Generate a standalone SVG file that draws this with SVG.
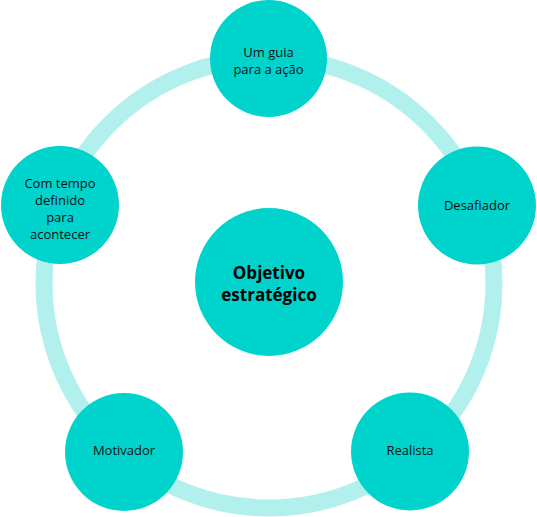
<svg xmlns="http://www.w3.org/2000/svg" width="537" height="517" viewBox="0 0 537 517">
<style>
.node{fill:#00d3cb}
.lbl{font-family:"Open Sans","Noto Sans",sans-serif;font-size:13px;fill:#111;text-anchor:middle}
.ctr{font-family:"Open Sans","Noto Sans",sans-serif;font-size:17px;font-weight:bold;fill:#000;text-anchor:middle}
</style>
<rect width="537" height="517" fill="#fff"/>
<g id="connectors">
<circle cx="269" cy="283" r="225" fill="none" stroke="#b2f0ee" stroke-width="17"/>
</g>
<g id="center">
<circle class="node" cx="269" cy="282" r="74"/>
<text class="ctr" x="269" y="279">Objetivo</text>
<text class="ctr" x="269" y="301">estratégico</text>
</g>
<g id="guia">
<circle class="node" cx="268.5" cy="58.5" r="58.5"/>
<text class="lbl" x="268.5" y="57">Um guia</text>
<text class="lbl" x="268.5" y="74">para a ação</text>
</g>
<g id="desafiador">
<circle class="node" cx="477" cy="205.5" r="59"/>
<text class="lbl" x="477" y="210">Desafiador</text>
</g>
<g id="realista">
<circle class="node" cx="410" cy="451.5" r="59"/>
<text class="lbl" x="410" y="455">Realista</text>
</g>
<g id="motivador">
<circle class="node" cx="124" cy="452" r="59"/>
<text class="lbl" x="124" y="455">Motivador</text>
</g>
<g id="tempo">
<circle class="node" cx="60" cy="205" r="59"/>
<text class="lbl" x="60" y="188">Com tempo</text>
<text class="lbl" x="60" y="205">definido</text>
<text class="lbl" x="60" y="222">para</text>
<text class="lbl" x="60" y="239">acontecer</text>
</g>
</svg>
